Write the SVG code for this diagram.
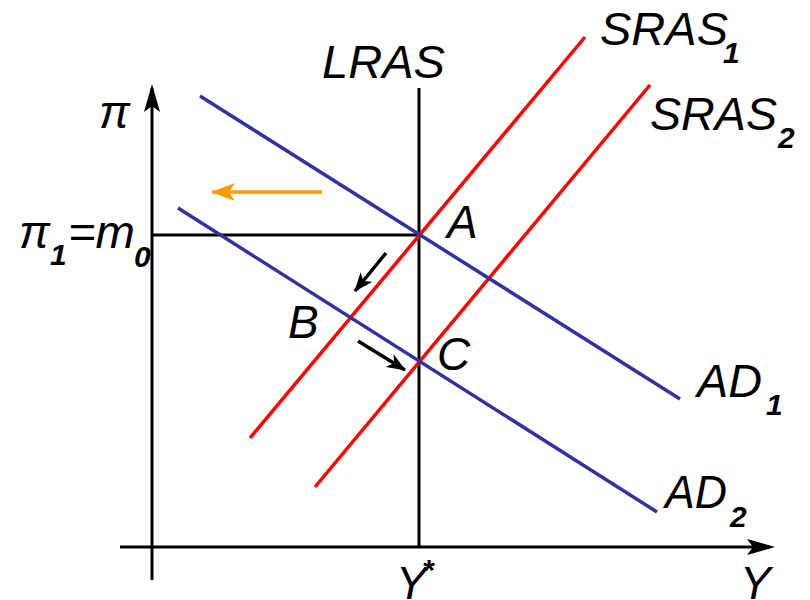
<svg xmlns="http://www.w3.org/2000/svg" width="810" height="600" viewBox="0 0 810 600">
<style>
text{font-family:"Liberation Sans",Arial,sans-serif;font-style:italic;fill:#000}
.lbl{font-size:46px}
.sub{font-size:30px;font-weight:bold}
.ax{stroke:#000;stroke-width:3;fill:none}
.red{stroke:#ff0000;stroke-width:3.5;fill:none}
.blue{stroke:#333399;stroke-width:3.5;fill:none}
</style>
<defs>
<marker id="bh" markerWidth="19" markerHeight="15" refX="18" refY="7.5" orient="auto" markerUnits="userSpaceOnUse" viewBox="0 0 19 15">
<path d="M0,0 L19,7.5 L0,15 L5,7.5 Z" fill="#000"/>
</marker>
<marker id="oh" markerWidth="24" markerHeight="18" refX="23" refY="9" orient="auto" markerUnits="userSpaceOnUse" viewBox="0 0 24 18">
<path d="M0,0 L24,9 L0,18 L6,9 Z" fill="#ff9900"/>
</marker>
</defs>
<g id="axes">
<line class="ax" x1="152" y1="580" x2="152" y2="88"/>
<path d="M152,84 L160,112 L152,106 L144,112 Z" fill="#000"/>
<line class="ax" x1="120" y1="547" x2="770" y2="547"/>
<path d="M775,547 L747,555 L753,547 L747,539 Z" fill="#000"/>
</g>
<g id="LRAS">
<line class="ax" x1="419" y1="88" x2="419" y2="547"/>
<text class="lbl" x="322" y="78" textLength="123" lengthAdjust="spacingAndGlyphs">LRAS</text>
</g>
<g id="pi1line">
<line class="ax" x1="152" y1="235" x2="419" y2="235"/>
</g>
<g id="SRAS1">
<line class="red" x1="250" y1="438" x2="585" y2="37"/>
<text class="lbl" x="600" y="45" textLength="128" lengthAdjust="spacingAndGlyphs">SRAS</text>
<text class="sub" x="723" y="63">1</text>
</g>
<g id="SRAS2">
<line class="red" x1="315" y1="487" x2="650" y2="85"/>
<text class="lbl" x="650" y="130" textLength="127" lengthAdjust="spacingAndGlyphs">SRAS</text>
<text class="sub" x="778" y="148">2</text>
</g>
<g id="AD1">
<line class="blue" x1="200" y1="96" x2="680" y2="399"/>
<text class="lbl" x="697" y="397" textLength="65" lengthAdjust="spacingAndGlyphs">AD</text>
<text class="sub" x="766" y="415">1</text>
</g>
<g id="AD2">
<line class="blue" x1="178" y1="208" x2="657" y2="512"/>
<text class="lbl" x="665" y="508" textLength="62" lengthAdjust="spacingAndGlyphs">AD</text>
<text class="sub" x="730" y="527">2</text>
</g>
<g id="points">
<text class="lbl" x="447" y="238">A</text>
<text class="lbl" x="288" y="338">B</text>
<text class="lbl" x="437" y="370">C</text>
</g>
<g id="connectors">
<line stroke="#ff9900" stroke-width="3.5" x1="322" y1="192" x2="212" y2="192" marker-end="url(#oh)"/>
<line stroke="#000" stroke-width="3.5" x1="386" y1="253" x2="355" y2="291" marker-end="url(#bh)"/>
<line stroke="#000" stroke-width="3.5" x1="358" y1="341" x2="405" y2="370" marker-end="url(#bh)"/>
</g>
<g id="axis-labels">
<text class="lbl" x="99" y="128">π</text>
<text class="lbl" x="19" y="248">π</text>
<text class="sub" x="50" y="265">1</text>
<text class="lbl" x="68" y="248" textLength="67" lengthAdjust="spacingAndGlyphs">=m</text>
<text class="sub" x="134" y="267">0</text>
<text class="lbl" x="396" y="599">Y</text>
<text font-size="30px" font-weight="bold" x="422" y="580">*</text>
<text class="lbl" x="740" y="599">Y</text>
</g>
</svg>
